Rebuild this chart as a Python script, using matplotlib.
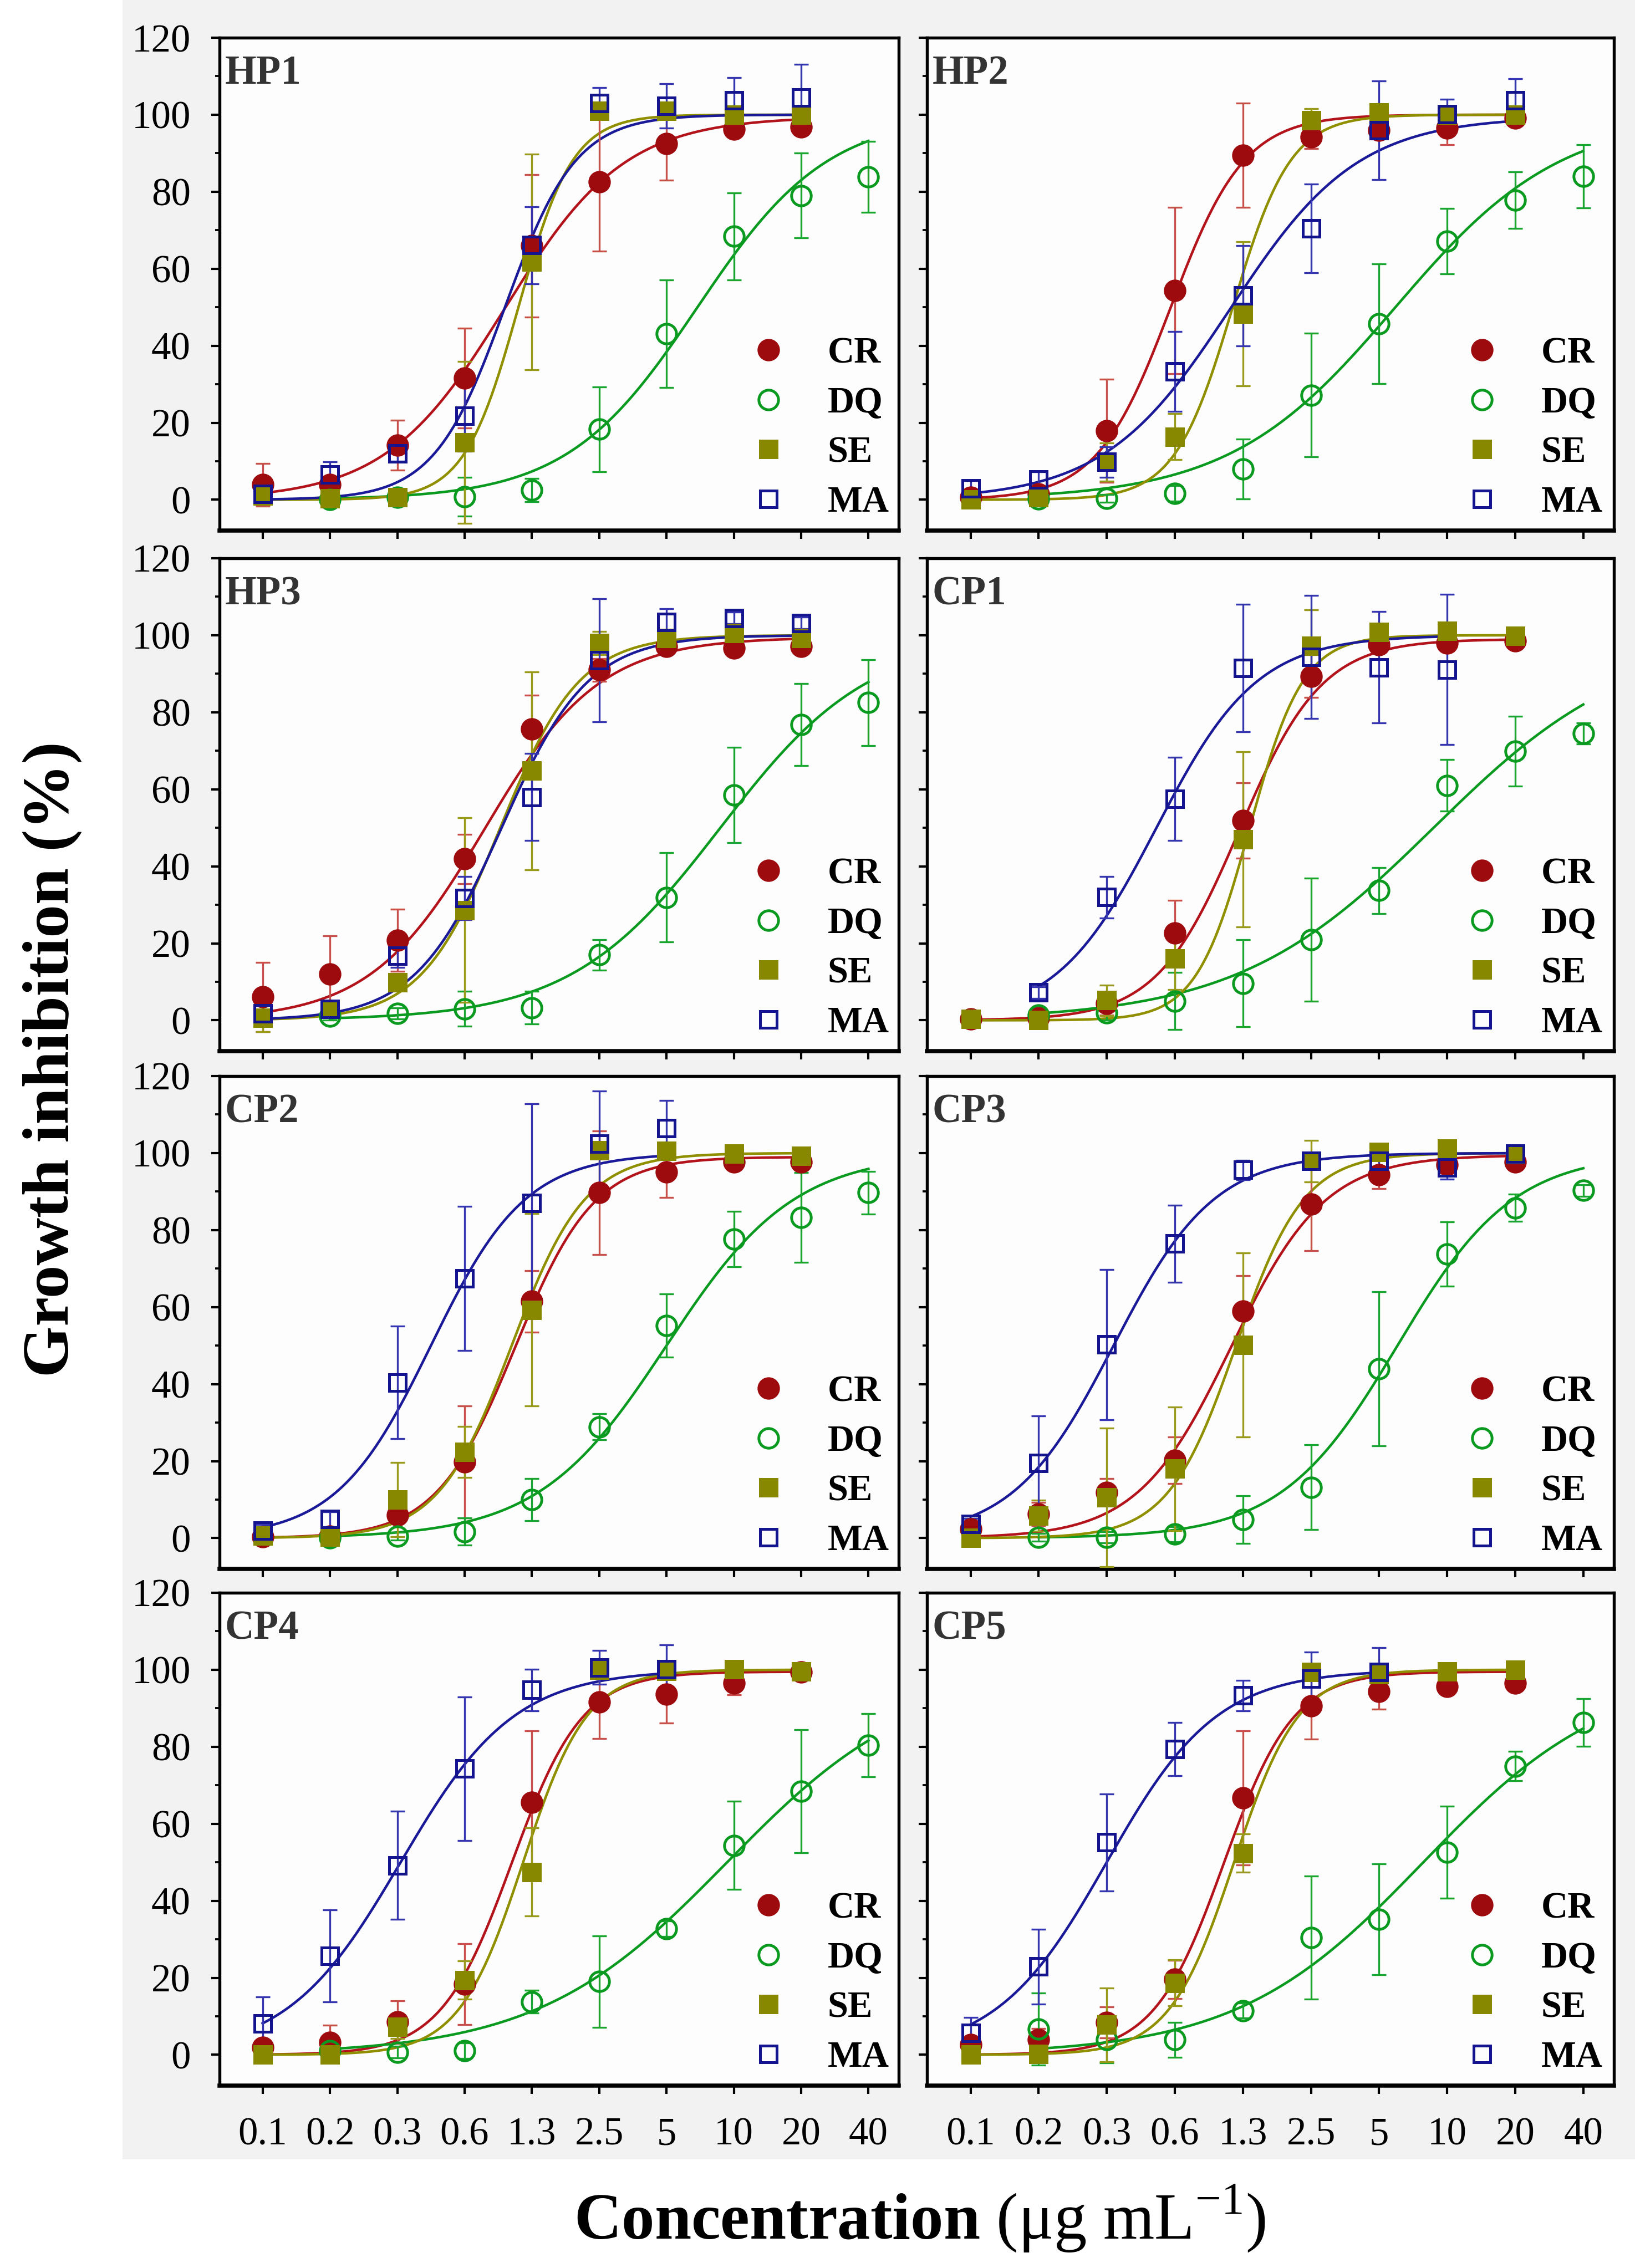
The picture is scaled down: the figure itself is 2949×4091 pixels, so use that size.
import numpy as np
import matplotlib
matplotlib.use("Agg")
import matplotlib.pyplot as plt
from matplotlib.lines import Line2D
from matplotlib.patches import Rectangle
from matplotlib.ticker import MultipleLocator

plt.rcParams['font.family'] = ['Liberation Serif', 'DejaVu Serif']
plt.rcParams['mathtext.fontset'] = 'custom'
plt.rcParams['mathtext.rm'] = 'Liberation Serif'
plt.rcParams['mathtext.bf'] = 'Liberation Serif:bold'

nan = np.nan

# concentrations (two-fold dilution series, shown rounded)
CONC_LABELS = ['0.1', '0.2', '0.3', '0.6', '1.3', '2.5', '5', '10', '20', '40']
PANELS = ['HP1', 'HP2', 'HP3', 'CP1', 'CP2', 'CP3', 'CP4', 'CP5']
SERIES = ['CR', 'DQ', 'SE', 'MA']

# mean growth inhibition (%) per concentration step
CR_MEAN = {
    'HP1': [3.9, 4.0, 14.2, 31.6, 66.0, 82.5, 92.5, 96.3, 96.8, nan],
    'HP2': [0.6, 1.5, 17.9, 54.4, 89.5, 94.2, 95.9, 96.6, 99.1, nan],
    'HP3': [6.1, 12.0, 20.8, 41.9, 75.7, 91.0, 97.1, 96.7, 97.1, nan],
    'CP1': [0.4, 0.6, 4.4, 22.7, 51.9, 89.4, 97.6, 98.0, 98.5, nan],
    'CP2': [0.3, 0.5, 5.9, 19.8, 61.5, 89.7, 95.1, 97.7, 97.7, nan],
    'CP3': [2.3, 6.3, 11.9, 20.2, 59.0, 86.8, 94.4, 97.0, 97.7, nan],
    'CP4': [2.0, 3.3, 8.5, 18.4, 65.6, 91.6, 93.6, 96.5, 99.4, nan],
    'CP5': [2.6, 3.9, 8.4, 19.6, 66.7, 90.6, 94.3, 95.7, 96.5, nan],
}
CR_SD = {
    'HP1': [5.5, 2, 6.5, 13, 18.5, 18, 9.5, 2, 2, nan],
    'HP2': [1, 1, 13.4, 21.6, 13.5, 3, 2, 4.4, 1.5, nan],
    'HP3': [9, 10, 8, 6.4, 8.8, 3, 1.5, 1.5, 1.5, nan],
    'CP1': [1, 1, 3, 8.5, 9.8, 5.5, 2, 2, 1.5, nan],
    'CP2': [1, 1, 2, 14.5, 8, 16, 6.7, 1.5, 1.5, nan],
    'CP3': [1.5, 3, 3.5, 6, 9.2, 12.2, 3.7, 2, 1.5, nan],
    'CP4': [1.5, 4.4, 5.5, 10.5, 18.5, 9.5, 7.4, 3, 1.5, nan],
    'CP5': [1.5, 3, 4, 5, 17.4, 8.6, 4.6, 2, 1.5, nan],
}
DQ_MEAN = {
    'HP1': [nan, 0.0, 0.6, 0.8, 2.5, 18.3, 43.1, 68.4, 79.0, 83.9],
    'HP2': [nan, 0.2, 0.4, 1.6, 8.0, 27.2, 45.7, 67.2, 77.8, 84.0],
    'HP3': [nan, 1.0, 1.8, 3.0, 3.3, 17.0, 31.9, 58.5, 76.8, 82.5],
    'CP1': [nan, 1.3, 2.0, 5.0, 9.6, 20.9, 33.7, 61.0, 69.9, 74.5],
    'CP2': [nan, 0.0, 0.5, 1.7, 10.0, 28.9, 55.2, 77.7, 83.3, 89.7],
    'CP3': [nan, 0.2, 0.2, 1.0, 4.8, 13.2, 44.0, 73.8, 85.8, 90.3],
    'CP4': [nan, 1.1, 0.7, 1.1, 13.8, 19.0, 32.8, 54.4, 68.5, 80.4],
    'CP5': [nan, 6.7, 3.9, 3.9, 11.5, 30.4, 35.2, 52.6, 75.0, 86.3],
}
DQ_SD = {
    'HP1': [nan, 1, 1, 5, 3, 11, 14, 11.3, 11, 9.2],
    'HP2': [nan, 1, 1, 2, 7.8, 16, 15.6, 8.5, 7.4, 8.2],
    'HP3': [nan, 1, 1.5, 4.5, 4.3, 4, 11.6, 12.4, 10.7, 11.1],
    'CP1': [nan, 1, 2, 7.4, 11.3, 16, 6, 6.7, 9.1, 2.8],
    'CP2': [nan, 1, 1, 3.5, 5.5, 3.4, 8.2, 7.2, 11.7, 5.6],
    'CP3': [nan, 1, 1.5, 2, 6.2, 11, 20, 8.4, 3.5, 1.5],
    'CP4': [nan, 1, 1.5, 2, 3, 11.9, 2, 11.4, 16, 8.2],
    'CP5': [nan, 9.4, 6, 4.5, 2, 16, 14.4, 12, 3.8, 6.2],
}
SE_MEAN = {
    'HP1': [1.0, 0.3, 0.6, 14.9, 61.8, 101.0, 101.0, 100.0, 100.0, nan],
    'HP2': [0.0, 0.6, 9.8, 16.4, 48.3, 98.6, 100.6, 100.0, 100.0, nan],
    'HP3': [0.7, 2.9, 9.9, 28.6, 64.8, 98.0, 99.3, 100.6, 99.3, nan],
    'CP1': [0.4, 0.0, 5.2, 16.0, 47.0, 97.2, 100.9, 101.1, 99.8, nan],
    'CP2': [0.7, 0.3, 10.0, 22.4, 59.3, 100.7, 100.5, 99.8, 99.2, nan],
    'CP3': [0.0, 5.8, 10.6, 18.0, 50.1, 97.9, 100.3, 101.1, 99.7, nan],
    'CP4': [0.0, 0.0, 7.2, 19.4, 47.5, 100.0, 99.7, 100.2, 99.6, nan],
    'CP5': [0.0, 0.2, 7.8, 18.7, 52.4, 99.4, 98.9, 99.6, 100.0, nan],
}
SE_SD = {
    'HP1': [2, 1, 1, 21, 28, 2, 2, 2, 2, nan],
    'HP2': [1, 1, 5, 6, 18.7, 3, 2, 2, 1.5, nan],
    'HP3': [3.7, 1.5, 2, 24, 25.7, 3, 2, 1.5, 1.5, nan],
    'CP1': [1, 1, 4, 8, 22.7, 9.4, 2, 2, 1.5, nan],
    'CP2': [1, 1, 9.6, 6.6, 25, 2, 2, 1.5, 1.5, nan],
    'CP3': [1, 4, 18, 16, 23.9, 5.4, 2, 2, 1.5, nan],
    'CP4': [1, 1, 3, 5, 11.4, 1.5, 1.5, 1.5, 1.5, nan],
    'CP5': [1, 1.5, 9.6, 6, 5, 2, 1.5, 1.5, 1.5, nan],
}
MA_MEAN = {
    'HP1': [1.5, 6.6, 12.0, 21.8, 66.1, 103.0, 102.3, 103.7, 104.4, nan],
    'HP2': [2.9, 5.2, 9.8, 33.3, 53.0, 70.5, 95.9, 100.2, 103.7, nan],
    'HP3': [1.8, 3.0, 16.7, 31.7, 58.0, 93.5, 103.4, 104.5, 103.2, nan],
    'CP1': [nan, 7.2, 32.0, 57.5, 91.5, 94.4, 91.7, 91.1, nan, nan],
    'CP2': [2.0, 4.9, 40.4, 67.5, 87.0, 102.4, 106.4, nan, nan, nan],
    'CP3': [3.6, 19.5, 50.3, 76.5, 95.6, 97.9, 98.0, 96.2, 99.9, nan],
    'CP4': [8.1, 25.7, 49.2, 74.3, 94.8, 100.6, 100.2, nan, nan, nan],
    'CP5': [5.7, 22.9, 55.2, 79.4, 93.3, 97.7, 99.4, nan, nan, nan],
}
MA_SD = {
    'HP1': [2, 3.2, 2, 9.2, 10, 4, 5.7, 6, 8.7, nan],
    'HP2': [2, 2, 4, 10.4, 13, 11.5, 12.8, 3.8, 5.7, nan],
    'HP3': [2, 1.5, 3, 5.6, 11.3, 16, 3.5, 1.5, 1.5, nan],
    'CP1': [nan, 1.5, 5.4, 10.8, 16.6, 16, 14.5, 19.5, nan, nan],
    'CP2': [1.5, 2, 14.6, 18.7, 25.8, 13.7, 7.3, nan, nan, nan],
    'CP3': [1.5, 12.2, 19.5, 10, 2.5, 1.5, 1.5, 3, 1.5, nan],
    'CP4': [7, 11.9, 14, 18.6, 5.4, 4.4, 6.2, nan, nan, nan],
    'CP5': [4, 9.7, 12.6, 6.9, 3.9, 6.9, 6.4, nan, nan, nan],
}

# fitted dose-response curves: (midpoint in dilution steps, slope, top)
CR_FIT = {'HP1': (3.6, 1.12, 99.5), 'HP2': (2.94, 1.85, 100), 'HP3': (3.3, 1.17, 99.5),
          'CP1': (3.95, 1.65, 99), 'CP2': (3.75, 1.7, 99), 'CP3': (3.83, 1.45, 99.5),
          'CP4': (3.7, 1.9, 99.5), 'CP5': (3.72, 1.95, 99.5)}
DQ_FIT = {'HP1': (6.46, 1.03, 100), 'HP2': (6.24, 0.82, 100), 'HP3': (6.8, 0.9, 100),
          'CP1': (6.8, 0.69, 100), 'CP2': (6.0, 1.05, 100), 'CP3': (6.27, 1.17, 100),
          'CP4': (6.9, 0.71, 100), 'CP5': (6.65, 0.73, 100)}
SE_FIT = {'HP1': (3.8, 2.48, 100), 'HP2': (3.85, 2.35, 100), 'HP3': (3.53, 1.7, 100),
          'CP1': (4.1, 2.55, 100), 'CP2': (3.7, 1.83, 100), 'CP3': (3.9, 2.0, 100),
          'CP4': (3.87, 2.1, 100), 'CP5': (3.87, 2.1, 100)}
MA_FIT = {'HP1': (3.6, 1.9, 100), 'HP2': (3.82, 1.07, 99.5), 'HP3': (3.55, 1.55, 100),
          'CP1': (2.73, 1.35, 100), 'CP2': (2.5, 1.42, 100), 'CP3': (2.1, 1.35, 100),
          'CP4': (2.05, 1.18, 100), 'CP5': (2.0, 1.23, 100)}

MEANS = {'CR': CR_MEAN, 'DQ': DQ_MEAN, 'SE': SE_MEAN, 'MA': MA_MEAN}
SDS = {'CR': CR_SD, 'DQ': DQ_SD, 'SE': SE_SD, 'MA': MA_SD}
FITS = {'CR': CR_FIT, 'DQ': DQ_FIT, 'SE': SE_FIT, 'MA': MA_FIT}

# styles
STYLE = {
    'CR': dict(marker='o', mfc='#9e0b0f', mec='#9e0b0f', line='#b3141c', err='#c8504a', ms=8.5),
    'DQ': dict(marker='o', mfc='none', mec='#0a9a20', line='#0a9a20', err='#1aa530', ms=8.5),
    'SE': dict(marker='s', mfc='#878700', mec='#878700', line='#8f8f00', err='#9a9a1a', ms=7.0),
    'MA': dict(marker='s', mfc='none', mec='#14148f', line='#1a1a98', err='#3535b0', ms=7.0),
}


def logistic(x, x50, k, top):
    return top / (1 + np.exp(-k * (x - x50)))


W, H = 2949, 4091
fig = plt.figure(figsize=(W / 300, H / 300), dpi=300, facecolor='white')
fig.patches.append(Rectangle((0.075, 0.048), 0.925, 0.952, transform=fig.transFigure,
                             facecolor='#f2f2f2', edgecolor='none', zorder=-10))

col_x = [(396, 1621), (1672, 2911)]
row_top = [68, 1007, 1941, 2873]
panel_h = 889

x_idx = np.arange(len(CONC_LABELS))

for i, name in enumerate(PANELS):
    r, c = divmod(i, 2)
    x0, x1 = col_x[c]
    ax = fig.add_axes([x0 / W, 1 - (row_top[r] + panel_h) / H, (x1 - x0) / W, panel_h / H])
    ax.set_facecolor('#fdfdfd')

    for s in SERIES:
        st = STYLE[s]
        m = np.array(MEANS[s][name], dtype=float)
        e = np.array(SDS[s][name], dtype=float)
        ok = ~np.isnan(m)
        xs = x_idx[ok]
        x50, k, top = FITS[s][name]
        xf = np.linspace(xs.min(), xs.max(), 300)
        ax.plot(xf, logistic(xf, x50, k, top), color=st['line'], lw=1.1, zorder=2)
        ax.errorbar(xs, m[ok], yerr=e[ok], fmt='none', ecolor=st['err'], elinewidth=0.8,
                    capsize=3.2, capthick=0.8, zorder=3)
        ax.plot(xs, m[ok], ls='none', marker=st['marker'], ms=st['ms'], mfc=st['mfc'],
                mec=st['mec'], mew=1.2, zorder=4)

    ax.set_xlim(-0.64, 9.45)
    ax.set_ylim(-8, 120)
    ax.set_xticks(x_idx)
    ax.yaxis.set_major_locator(MultipleLocator(20))
    ax.yaxis.set_minor_locator(MultipleLocator(10))
    ax.tick_params(axis='both', which='major', direction='out', length=3.5, width=1.0,
                   labelsize=17)
    ax.tick_params(axis='y', which='minor', direction='out', length=2.0, width=0.9)
    ax.tick_params(axis='x', pad=10)
    ax.tick_params(axis='y', pad=9)
    if r == 3:
        ax.set_xticklabels(CONC_LABELS)
    else:
        ax.set_xticklabels([])
    if c == 1:
        ax.set_yticklabels([])
    for sp in ax.spines.values():
        sp.set_linewidth(1.3)
    ax.spines['bottom'].set_linewidth(1.8)

    ax.text(0.008, 0.965, name, transform=ax.transAxes, ha='left', va='top',
            fontsize=17.5, fontweight='bold', color='#333333')

    handles = [Line2D([], [], ls='none', marker=STYLE[s]['marker'], ms=STYLE[s]['ms'],
                      mfc=STYLE[s]['mfc'], mec=STYLE[s]['mec'], mew=1.2) for s in SERIES]
    ax.legend(handles, SERIES, loc='lower left', bbox_to_anchor=(0.781, 0.022),
              frameon=False, prop={'weight': 'bold', 'size': 16}, handlelength=1.0,
              handletextpad=1.1, labelspacing=0.43, borderpad=0, borderaxespad=0)

fig.text(0.032, 0.533, 'Growth inhibition (%)', rotation=90, ha='center', va='center',
         fontsize=28.5, fontweight='bold')
fig.text(0.5626, 0.022, r'$\mathbf{Concentration}$ (μg mL$^{-1}$)', ha='center', va='center',
         fontsize=28.5)

fig.savefig('out.png', dpi=300, facecolor=fig.get_facecolor())
